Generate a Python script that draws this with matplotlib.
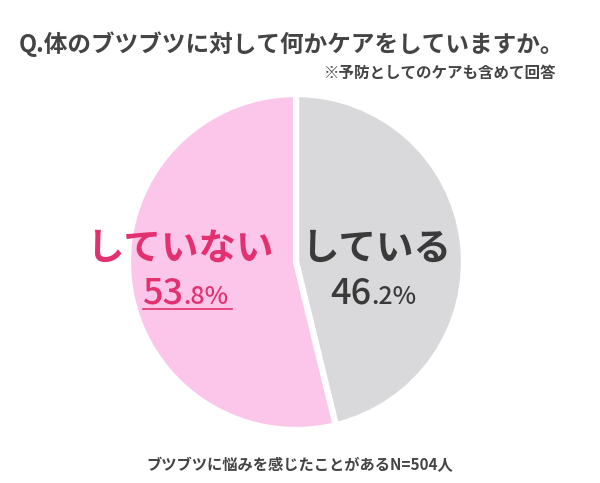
import matplotlib
matplotlib.use("Agg")
import matplotlib.pyplot as plt

plt.rcParams['font.family'] = ['Noto Sans CJK JP', 'DejaVu Sans']

labels = ["している", "していない"]
values = [46.2, 53.8]
colors = ["#d9d9db", "#fbc6ea"]
title = "Q.体のブツブツに対して何かケアをしていますか。"
subtitle = "※予防としてのケアも含めて回答"
footnote = "ブツブツに悩みを感じたことがあるN=504人"

TEXT_GRAY = "#444444"
PINK_TEXT = "#e3316f"

W, H = 600, 483
fig = plt.figure(figsize=(6, 4.83), dpi=100)
ax = fig.add_axes([0, 0, 1, 1])

def py(y):
    # pixel row from top -> data y
    return H - y

ax.pie(values, colors=colors, startangle=90, counterclock=False,
       center=(296, py(262)), radius=168, frame=True,
       wedgeprops=dict(edgecolor="white", linewidth=4.5))
ax.set_xlim(0, W)
ax.set_ylim(0, H)
ax.set_aspect('equal')
ax.axis('off')

ax.text(292, py(44), title, ha='center', va='center', fontsize=17,
        fontweight='bold', color=TEXT_GRAY)
ax.text(556, py(73), subtitle, ha='right', va='center', fontsize=11.2,
        fontweight='bold', color=TEXT_GRAY)
ax.text(300, py(465), footnote, ha='center', va='center', fontsize=11,
        fontweight='bold', color=TEXT_GRAY)

# slice labels
ax.text(180, py(248), labels[1], ha='center', va='center', fontsize=27,
        fontweight='bold', color=PINK_TEXT)
ax.text(376, py(248), labels[0], ha='center', va='center', fontsize=27,
        fontweight='bold', color="#3a3a3a")

def pct(x, y, v, color):
    whole, frac = f"{v:.1f}".split(".")
    ax.text(x, py(y), whole, ha='right', va='baseline', fontsize=26,
            fontweight='medium', color=color)
    ax.text(x, py(y), "." + frac + "%", ha='left', va='baseline', fontsize=18,
            fontweight='medium', color=color)

pct(183, 304, values[1], PINK_TEXT)
pct(371, 304, values[0], "#3a3a3a")
ax.plot([143, 232], [py(309), py(309)], color=PINK_TEXT, linewidth=1.2)

fig.savefig("out.png", dpi=100)
